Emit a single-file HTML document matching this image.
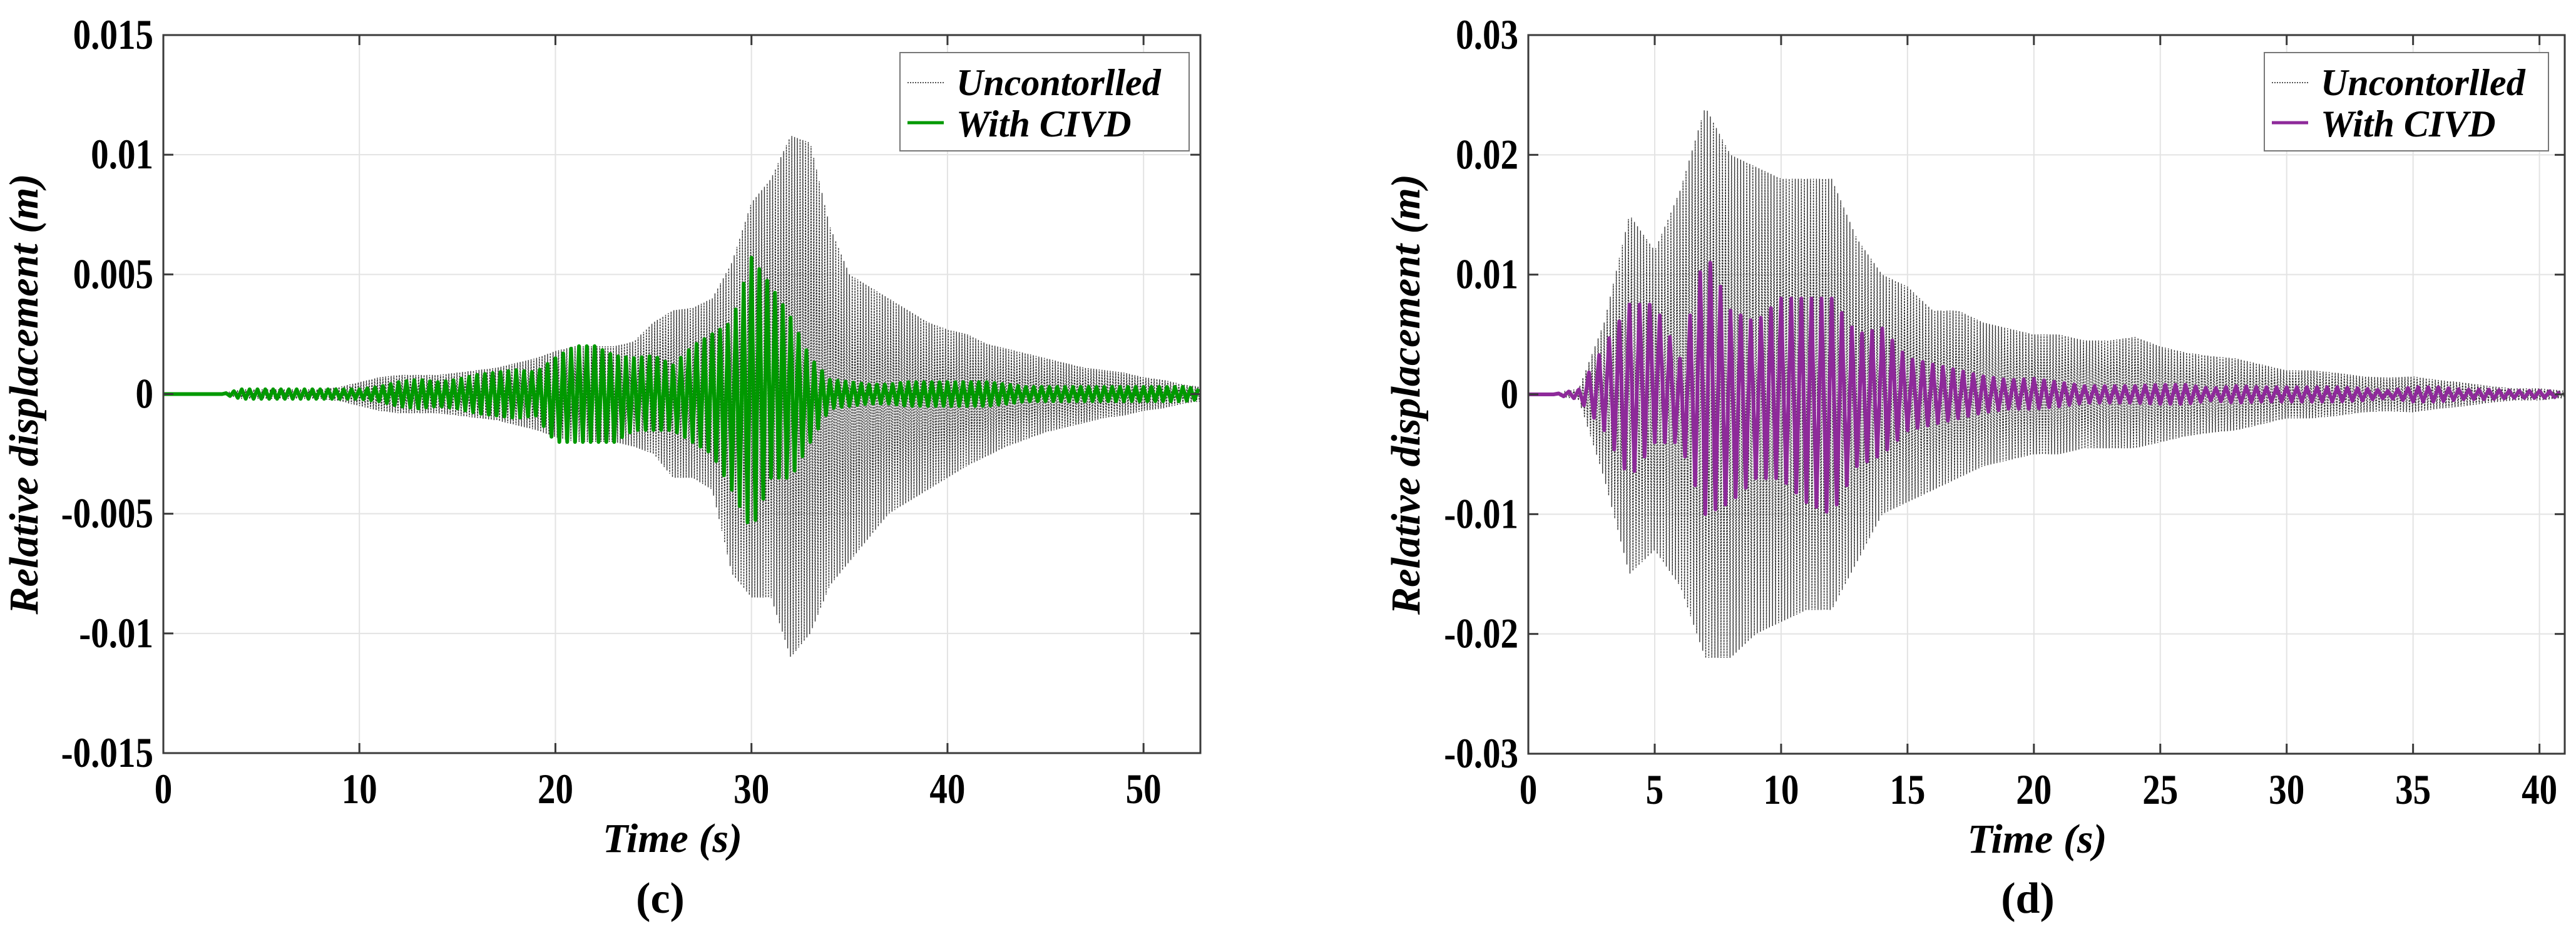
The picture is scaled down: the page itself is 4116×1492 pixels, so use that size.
<!DOCTYPE html>
<html><head><meta charset="utf-8"><style>
html,body{margin:0;padding:0;background:#fff}
svg text{font-family:"Liberation Serif",serif;font-weight:bold}
</style></head><body>
<svg id="fig" width="4116" height="1487" viewBox="0 0 4116 1487" xmlns="http://www.w3.org/2000/svg"></svg>
<script>
// ---- Panel (c) data (mm, per 1 s) ----
const cUncUpper=[0,0,0,0,0.2,0.2,0.2,0.2,0.2,0.3,0.5,0.7,0.8,0.8,0.8,0.9,1.0,1.1,1.3,1.5,1.8,2.0,2.0,2.0,2.2,3.0,3.5,3.6,4.0,5.5,8,9,10.8,10.5,7,5,4.5,4.0,3.5,3.0,2.7,2.5,2.1,1.9,1.7,1.5,1.3,1.1,1.0,0.9,0.7,0.6,0.4,0.3];
const cUncLower=[0,0,0,0,-0.2,-0.2,-0.2,-0.2,-0.2,-0.3,-0.5,-0.7,-0.8,-0.8,-0.8,-0.9,-1.0,-1.1,-1.3,-1.5,-1.8,-2.0,-2.0,-2.0,-2.2,-2.5,-3.5,-3.5,-4.0,-7.5,-8.5,-8.5,-11,-10,-8,-7,-6,-5,-4.5,-4,-3.5,-3,-2.6,-2.2,-1.9,-1.6,-1.4,-1.2,-1.0,-0.9,-0.7,-0.6,-0.4,-0.3];
const cCtlUpper=[0,0,0,0,0.2,0.2,0.2,0.2,0.2,0.2,0.2,0.3,0.5,0.6,0.5,0.6,0.8,0.9,1.0,0.9,1.5,2.0,2.0,1.6,1.5,1.6,1.2,2.0,2.5,3.0,5.7,4.5,3.2,1.5,0.6,0.5,0.4,0.4,0.5,0.5,0.5,0.5,0.5,0.4,0.3,0.3,0.3,0.3,0.3,0.3,0.3,0.3,0.3,0.2];
const cCtlLower=[0,0,0,0,-0.2,-0.2,-0.2,-0.2,-0.2,-0.2,-0.2,-0.3,-0.5,-0.6,-0.5,-0.6,-0.8,-0.9,-1.0,-0.9,-2.0,-2.0,-2.0,-2.0,-1.5,-1.5,-1.5,-2.0,-2.5,-4.0,-5.7,-3.5,-3.5,-2.0,-0.6,-0.5,-0.4,-0.4,-0.5,-0.5,-0.5,-0.5,-0.5,-0.4,-0.3,-0.3,-0.3,-0.3,-0.3,-0.3,-0.3,-0.3,-0.3,-0.2];
const cXTicks=[0,10,20,30,40,50];
const cYTicks=[-0.015,-0.01,-0.005,0,0.005,0.01,0.015];
const cYLabels=["-0.015","-0.01","-0.005","0","0.005","0.01","0.015"];
// ---- Panel (d) data (mm, per 1 s) ----
const dUncUpper=[0,0,0.5,6,15,12,17,24,20,19,18,18,18,13,10,9,7,7,6,5.5,5,5,4.5,4.5,4.8,4,3.5,3.2,3,2.5,2,2,1.8,1.5,1.4,1.5,1.2,1,0.7,0.5,0.5,0.3];
const dUncLower=[0,0,-0.5,-7,-15,-13,-16,-22,-22,-20,-19,-18,-18,-14,-10,-9,-8,-7,-6,-5.5,-5,-5,-4.5,-4.5,-4.5,-4,-3.5,-3.2,-3,-2.5,-2,-2,-1.8,-1.5,-1.4,-1.5,-1.2,-1,-0.7,-0.5,-0.5,-0.3];
const dCtlUpper=[0,0,0.4,4,7.5,7.5,3,12,7,6,8,8,8,5,5.5,3,2.5,2,1.5,1.2,1.3,1,0.7,0.7,0.7,0.8,0.8,0.5,0.7,0.6,0.6,0.6,0.6,0.5,0.3,0.6,0.6,0.4,0.4,0.3,0.3,0.2];
const dCtlLower=[0,0,-0.4,-3,-7,-4,-4,-10,-9,-7,-7,-9,-10,-6,-5,-3,-2.5,-2,-1.5,-1.2,-1.2,-1,-0.7,-0.7,-0.7,-0.8,-0.8,-0.5,-0.7,-0.6,-0.6,-0.6,-0.6,-0.5,-0.3,-0.6,-0.6,-0.4,-0.4,-0.3,-0.3,-0.2];
const dXTicks=[0,5,10,15,20,25,30,35,40];
const dYTicks=[-0.03,-0.02,-0.01,0,0.01,0.02,0.03];
const dYLabels=["-0.03","-0.02","-0.01","0","0.01","0.02","0.03"];

const NS="http://www.w3.org/2000/svg";
const svg=document.getElementById('fig');
function mk(tag,attrs,parent){const e=document.createElementNS(NS,tag);for(const k in attrs)e.setAttribute(k,attrs[k]);(parent||svg).appendChild(e);return e;}
function interp(arr,t){const i=Math.floor(t);if(i>=arr.length-1)return arr[arr.length-1];const f=t-i;return arr[i]*(1-f)+arr[i+1]*f;}

function panel(o){
  const g=mk('g',{});
  
  
  const X=v=>o.L+(v-0)/(o.xmax)*(o.R-o.L);
  const Y=v=>o.B-(v-o.ymin)/(o.ymax-o.ymin)*(o.B-o.T);
  o.xt.forEach(v=>{const l=mk('line',{x1:X(v),x2:X(v),y1:o.T,y2:o.B,stroke:'#e3e3e3','stroke-width':2},g);
    });
  o.yt.forEach(v=>{const l=mk('line',{x1:o.L,x2:o.R,y1:Y(v),y2:Y(v),stroke:'#e3e3e3','stroke-width':2},g);
    });
  let d='';const n1=o.unU.length-1;let k=0;
  for(let t=0;t<=Math.min(n1,o.xmax);t+=o.fu){const v=(k%2?interp(o.unL,t):interp(o.unU,t))/1000;d+=(k?'L':'M')+X(t).toFixed(1)+','+Y(v).toFixed(1);k++;}
  const pu=mk('path',{d:d,fill:'none',stroke:'#333','stroke-width':1.4,'stroke-dasharray':'3 1.5'},g);
  
  d='';k=0;
  for(let t=0;t<=Math.min(o.ctU.length-1,o.xmax);t+=o.fc){const v=(k%2?interp(o.ctL,t):interp(o.ctU,t))/1000;d+=(k?'L':'M')+X(t).toFixed(1)+','+Y(v).toFixed(1);k++;}
  const pc=mk('path',{d:d,fill:'none',stroke:o.color,'stroke-width':6,'stroke-linejoin':'round'},g);
  
  const fr=mk('rect',{x:o.L,y:o.T,width:o.R-o.L,height:o.B-o.T,fill:'none',stroke:'#3a3a3a','stroke-width':3},g);
  
  o.xt.forEach(v=>{mk('line',{x1:X(v),x2:X(v),y1:o.B,y2:o.B-16,stroke:'#3a3a3a','stroke-width':3},g);
    mk('line',{x1:X(v),x2:X(v),y1:o.T,y2:o.T+16,stroke:'#3a3a3a','stroke-width':3},g);
    const t=mk('text',{x:X(v),y:o.B+80,'text-anchor':'middle','font-size':62,transform:`translate(${X(v)} ${o.B+80}) scale(0.92 1.1) translate(${-X(v)} ${-(o.B+80)})`},g);t.textContent=v;
    });
  o.yt.forEach((v,i)=>{mk('line',{x1:o.L,x2:o.L+16,y1:Y(v),y2:Y(v),stroke:'#3a3a3a','stroke-width':3},g);
    mk('line',{x1:o.R,x2:o.R-16,y1:Y(v),y2:Y(v),stroke:'#3a3a3a','stroke-width':3},g);
    const yy=Y(v)+22;
    const t=mk('text',{x:o.L-16,y:yy,'text-anchor':'end','font-size':62,transform:`translate(${o.L-16} ${yy}) scale(0.92 1.1) translate(${-(o.L-16)} ${-yy})`},g);t.textContent=o.yl[i];
    });
  const xt=mk('text',{x:(o.L+o.R)/2-15,y:o.B+158,'text-anchor':'middle','font-size':66,'font-style':'italic'},g);xt.textContent='Time (s)';
  
  const yc=(o.T+o.B)/2;
  const yt=mk('text',{x:o.yx,y:yc,'text-anchor':'middle','font-size':66,'font-style':'italic',transform:`rotate(-90 ${o.yx} ${yc})`},g);yt.textContent='Relative displacement (m)';
  
  const cp=mk('text',{x:o.capX,y:1458,'text-anchor':'middle','font-size':70,'font-weight':'normal'},g);
  cp.innerHTML='(<tspan font-weight="bold">'+o.cap+'</tspan>)';
  
  const lg=mk('g',{},g);
  mk('rect',{x:o.lgX,y:84,width:o.lgW,height:157,fill:'#fff',stroke:'#777','stroke-width':2},lg);
  mk('line',{x1:o.lgX+12,x2:o.lgX+70,y1:132,y2:132,stroke:'#555','stroke-width':2,'stroke-dasharray':'2 2'},lg);
  mk('line',{x1:o.lgX+12,x2:o.lgX+70,y1:196,y2:196,stroke:o.color,'stroke-width':5},lg);
  const l1=mk('text',{x:o.lgX+90,y:152,'font-size':60,'font-style':'italic'},lg);l1.textContent='Uncontorlled';
  
  const l2=mk('text',{x:o.lgX+90,y:218,'font-size':60,'font-style':'italic'},lg);l2.textContent='With CIVD';
  
}
panel({name:'chart-c',L:261,R:1918,T:56,B:1203,xmax:52.9,ymin:-0.015,ymax:0.015,xt:cXTicks,yt:cYTicks,yl:cYLabels,
  unU:cUncUpper,unL:cUncLower,ctU:cCtlUpper,ctL:cCtlLower,fu:0.07,fc:0.2,color:'#009900',yx:60,capX:1055,cap:'c',lgX:1438,lgW:462});
panel({name:'chart-d',L:2442,R:4098,T:56,B:1204,xmax:41,ymin:-0.03,ymax:0.03,xt:dXTicks,yt:dYTicks,yl:dYLabels,
  unU:dUncUpper,unL:dUncLower,ctU:dCtlUpper,ctL:dCtlLower,fu:0.06,fc:0.2,color:'#8e2a9a',yx:2268,capX:3240,cap:'d',lgX:3618,lgW:454});
</script>
</body></html>
